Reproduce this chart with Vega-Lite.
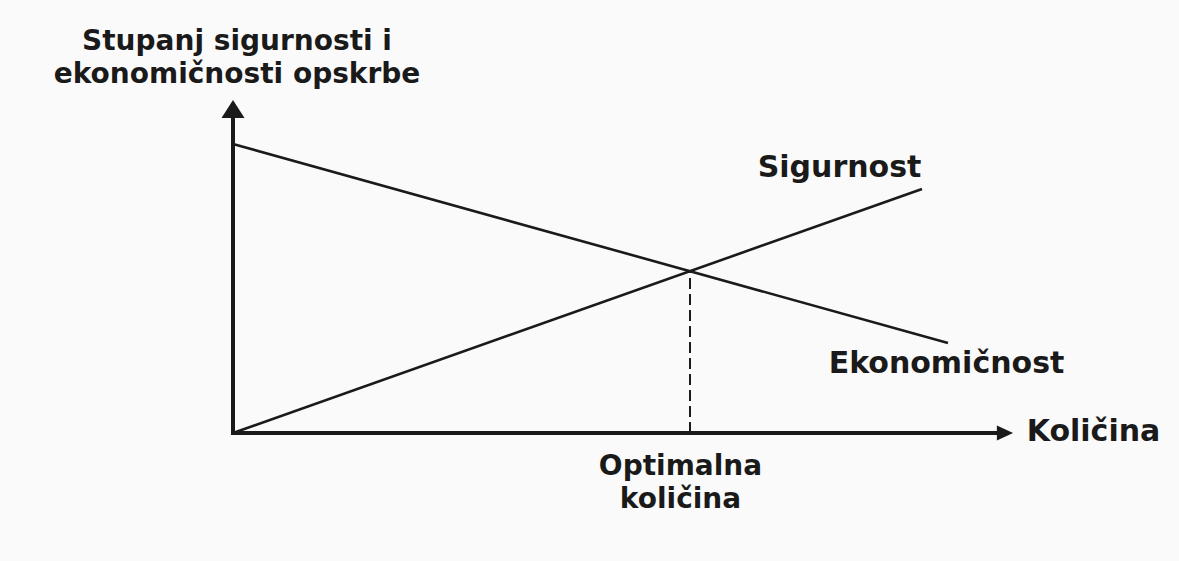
{
  "$schema": "https://vega.github.io/schema/vega-lite/v6.json",
  "width": 1179,
  "height": 561,
  "autosize": {"type": "fit", "contains": "padding"},
  "padding": 0,
  "background": "#fafafa",
  "config": {"view": {"stroke": null}},
  "datasets": {
    "axes": [
      {"axis": "y", "ord": 0, "x": 0, "y": 0},
      {"axis": "y", "ord": 1, "x": 0, "y": 31.6},
      {"axis": "x", "ord": 0, "x": 0, "y": 0},
      {"axis": "x", "ord": 1, "x": 76.6, "y": 0}
    ],
    "series": [
      {"series": "Ekonomičnost", "x": 0, "y": 28.9},
      {"series": "Ekonomičnost", "x": 71.5, "y": 9.0},
      {"series": "Sigurnost", "x": 0, "y": 0},
      {"series": "Sigurnost", "x": 68.9, "y": 24.4}
    ],
    "optimum": [
      {"x": 45.7, "y": 0, "y2": 16.2}
    ],
    "arrows": [
      {"dir": "up", "x": 0, "y": 32.4},
      {"dir": "right", "x": 77.2, "y": 0}
    ],
    "labels": [
      {"text": "Sigurnost", "x": 60.65, "y": 25.6},
      {"text": "Ekonomičnost", "x": 71.35, "y": 6.0},
      {"text": "Količina", "x": 86.05, "y": -0.8}
    ],
    "multiline": [
      {"text": "Stupanj sigurnosti i\nekonomičnosti opskrbe", "x": 0.4, "y": 38.3},
      {"text": "Optimalna\nkoličina", "x": 44.75, "y": -4.2}
    ]
  },
  "layer": [
    {
      "data": {"name": "axes"},
      "mark": {"type": "line", "color": "#1a1a1a", "strokeWidth": 4, "strokeCap": "square"},
      "encoding": {
        "x": {"field": "x", "type": "quantitative", "scale": {"domain": [-23.3, 94.6], "nice": false, "zero": false}, "axis": null},
        "y": {"field": "y", "type": "quantitative", "scale": {"domain": [-12.8, 43.3], "nice": false, "zero": false}, "axis": null},
        "detail": {"field": "axis"},
        "order": {"field": "ord"}
      }
    },
    {
      "data": {"name": "series"},
      "mark": {"type": "line", "color": "#1a1a1a", "strokeWidth": 2.6},
      "encoding": {
        "x": {"field": "x", "type": "quantitative"},
        "y": {"field": "y", "type": "quantitative"},
        "detail": {"field": "series"}
      }
    },
    {
      "data": {"name": "optimum"},
      "mark": {"type": "rule", "color": "#1a1a1a", "strokeWidth": 2, "strokeDash": [11, 5]},
      "encoding": {
        "x": {"field": "x", "type": "quantitative"},
        "y": {"field": "y", "type": "quantitative"},
        "y2": {"field": "y2"}
      }
    },
    {
      "data": {"name": "arrows"},
      "mark": {"type": "point", "filled": true, "color": "#1a1a1a", "opacity": 1, "size": 324, "strokeWidth": 0},
      "encoding": {
        "x": {"field": "x", "type": "quantitative"},
        "y": {"field": "y", "type": "quantitative"},
        "shape": {
          "field": "dir",
          "type": "nominal",
          "scale": {"domain": ["up", "right"], "range": ["M -1.28 1 L 0 -1 L 1.28 1 Z", "M -0.9 -0.84 L 0.9 0 L -0.9 0.84 Z"]},
          "legend": null
        }
      }
    },
    {
      "data": {"name": "labels"},
      "mark": {"type": "text", "font": "DejaVu Sans", "fontWeight": "bold", "fontSize": 30, "color": "#1a1a1a", "align": "center", "baseline": "alphabetic"},
      "encoding": {
        "x": {"field": "x", "type": "quantitative"},
        "y": {"field": "y", "type": "quantitative"},
        "text": {"field": "text"}
      }
    },
    {
      "data": {"name": "multiline"},
      "mark": {"type": "text", "font": "DejaVu Sans", "fontWeight": "bold", "fontSize": 28, "color": "#1a1a1a", "align": "center", "baseline": "alphabetic", "lineBreak": "\n", "lineHeight": 33},
      "encoding": {
        "x": {"field": "x", "type": "quantitative"},
        "y": {"field": "y", "type": "quantitative"},
        "text": {"field": "text"}
      }
    }
  ]
}
